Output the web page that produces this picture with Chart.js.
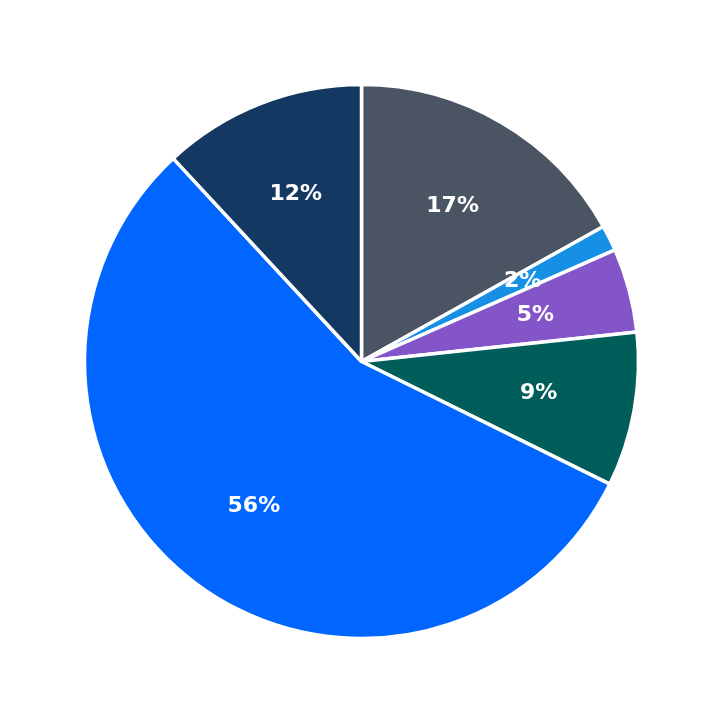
<!DOCTYPE html>
<html>
<head>
<meta charset="utf-8">
<script src="https://cdn.jsdelivr.net/npm/chart.js@4/dist/chart.umd.min.js"></script>
<style>
html,body{margin:0;padding:0;background:#fff;}
#wrap{width:723px;height:723px;}
</style>
</head>
<body>
<div id="wrap"><canvas id="c" width="723" height="723"></canvas></div>
<script>
const categories = ["A", "B", "C", "D", "E", "F"];
const values = [16.9, 1.5, 4.9, 9.0, 55.8, 11.9];
const colors = ["#4a5462", "#1590e5", "#8455c8", "#005e5a", "#0066ff", "#133962"];

const total = values.reduce((a, b) => a + b, 0);

const pctLabels = {
  id: 'pctLabels',
  afterDatasetsDraw(chart) {
    const ctx = chart.ctx;
    const meta = chart.getDatasetMeta(0);
    ctx.save();
    ctx.fillStyle = '#ffffff';
    ctx.font = 'bold 22px "DejaVu Sans"';
    ctx.textAlign = 'center';
    ctx.textBaseline = 'middle';
    meta.data.forEach((arc, i) => {
      const p = arc.getProps(['x', 'y', 'startAngle', 'endAngle', 'outerRadius']);
      const mid = (p.startAngle + p.endAngle) / 2;
      const r = 180;
      const x = p.x + Math.cos(mid) * r;
      const y = p.y + Math.sin(mid) * r;
      ctx.fillText(Math.round(values[i] / total * 100) + '%', x, y);
    });
    ctx.restore();
  }
};

new Chart(document.getElementById('c'), {
  type: 'pie',
  data: {
    labels: categories,
    datasets: [{
      data: values,
      backgroundColor: colors,
      borderColor: '#ffffff',
      borderWidth: 3.5,
      hoverOffset: 0
    }]
  },
  options: {
    responsive: false,
    animation: false,
    radius: 277,
    layout: { padding: 0 },
    plugins: {
      legend: { display: false },
      tooltip: { enabled: false }
    }
  },
  plugins: [pctLabels]
});
</script>
</body>
</html>
